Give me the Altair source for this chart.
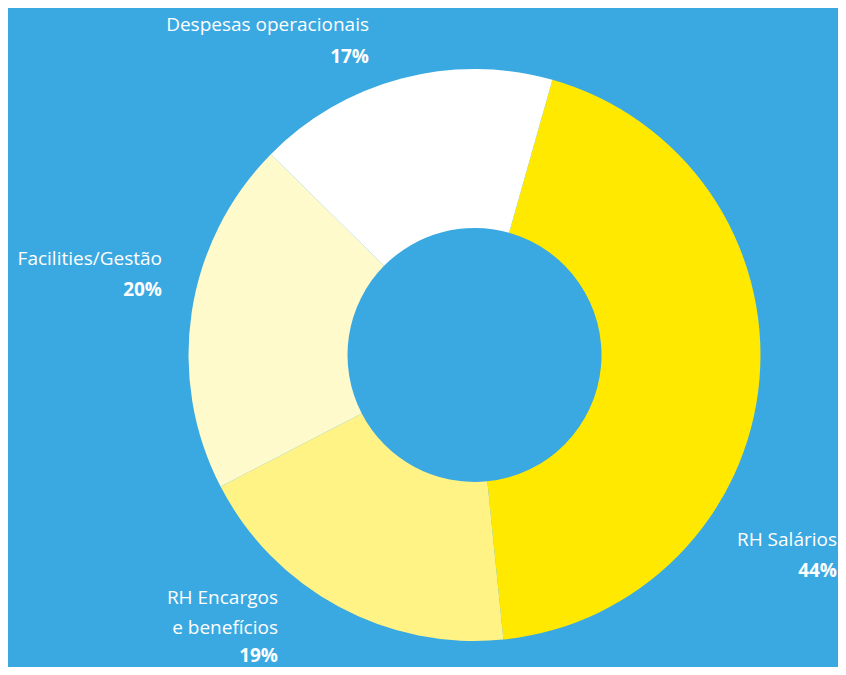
import math
import altair as alt
import pandas as pd

# ---- data ----
categories = ["RH Salários", "RH Encargos e benefícios", "Facilities/Gestão", "Despesas operacionais"]
name_lines = [["RH Salários"], ["RH Encargos", "e benefícios"], ["Facilities/Gestão"], ["Despesas operacionais"]]
values = [44, 19, 20, 17]

# ---- styles / layout ----
slice_colors = ["#FFE900", "#FFF385", "#FFFACC", "#FFFFFF"]
BG = "#3AA9E1"
FONT = "Open Sans"
start_angle = math.radians(15.8)
label_x = [829, 270, 154, 361]        # right edge of label (view px)
label_name_y = [538, 596, 257, 23]    # baseline of first name line
label_pct_y = [569, 654, 288, 55]     # baseline of percentage line

df = pd.DataFrame({
    "cat": categories,
    "value": values,
    "idx": list(range(len(categories))),
    "lines": name_lines,
    "pct": [f"{v}%" for v in values],
    "lx": label_x,
    "ny": label_name_y,
    "py": label_pct_y,
})

arcs = alt.Chart(df).mark_arc(outerRadius=286, innerRadius=127).encode(
    theta=alt.Theta("value:Q", stack=True,
                    scale=alt.Scale(range=[start_angle, start_angle + 2 * math.pi])),
    color=alt.Color("cat:N", scale=alt.Scale(domain=categories, range=slice_colors), legend=None),
    order=alt.Order("idx:Q"),
    x=alt.value(466.5),
    y=alt.value(347),
)

names = alt.Chart(df).mark_text(
    align="right", baseline="alphabetic", font=FONT, fontSize=19,
    color="white", lineHeight=29.5,
).encode(
    x=alt.X("lx:Q", scale=None, axis=None),
    y=alt.Y("ny:Q", scale=None, axis=None),
    text="lines",
)

pcts = alt.Chart(df).mark_text(
    align="right", baseline="alphabetic", font=FONT, fontSize=19,
    fontWeight="bold", color="white",
).encode(
    x=alt.X("lx:Q", scale=None, axis=None),
    y=alt.Y("py:Q", scale=None, axis=None),
    text="pct:N",
)

chart = alt.layer(arcs, names, pcts).properties(
    width=830,
    height=659,
    background=BG,
    padding=0,
    autosize=alt.AutoSizeParams(type="none"),
).configure_view(stroke="transparent")

chart.save("out.html", embed_options={"renderer": "svg", "actions": False})
